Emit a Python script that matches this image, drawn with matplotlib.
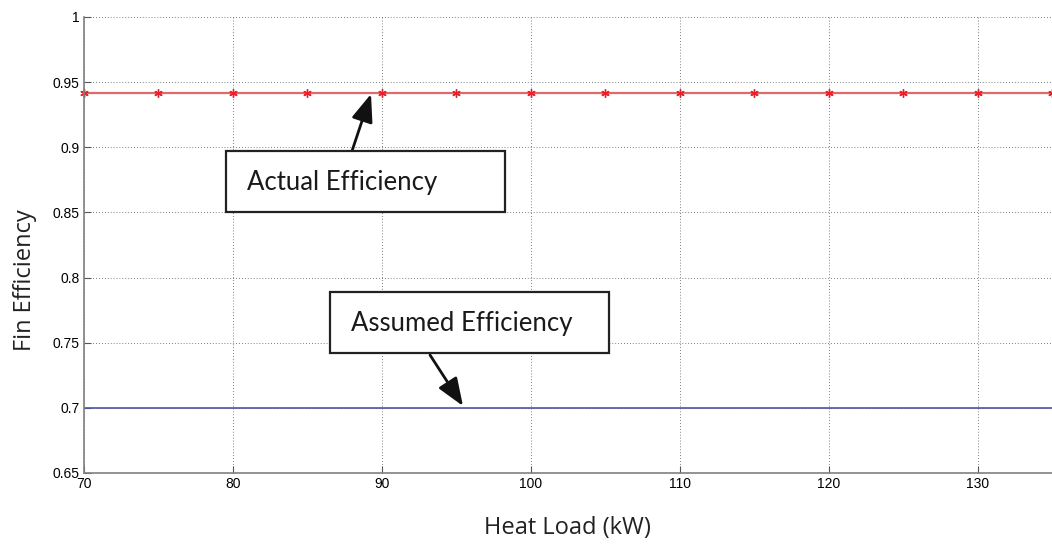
import numpy as np
import matplotlib.pyplot as plt
from matplotlib.patches import Rectangle

heat_load = [70, 75, 80, 85, 90, 95, 100, 105, 110, 115, 120, 125, 130, 135]
actual_eff = [0.9416] * len(heat_load)
assumed_eff = [0.70] * len(heat_load)

xticks = [70, 80, 90, 100, 110, 120, 130]
yticks = [0.65, 0.7, 0.75, 0.8, 0.85, 0.9, 0.95, 1.0]
yticklabels = ["0.65", "0.7", "0.75", "0.8", "0.85", "0.9", "0.95", "1"]

W, H = 1052, 546
fig = plt.figure(figsize=(W / 100, H / 100), dpi=100)
ax = fig.add_axes([84 / W, 1 - 473 / H, 1 - 84 / W, (473 - 17) / H])

ax.plot(heat_load, assumed_eff, color="#4a55a8", lw=1.2)
# asterisk markers: 6-point star with zero-width arms
ax.plot(heat_load, actual_eff, color="#e06a6a", lw=1.6, marker=(6, 2, 0),
        ms=6, mew=1.0, mec="#e8202a", mfc="#e8202a", clip_on=False)

ax.set_xlim(70, 135)
ax.set_ylim(0.65, 1.0)
ax.set_xticks(xticks)
ax.set_yticks(yticks)
ax.set_yticklabels(yticklabels)
ax.tick_params(direction="in", length=5, color="#555555", labelsize=10,
               pad=3)
for lab in ax.get_xticklabels() + ax.get_yticklabels():
    lab.set_family("Liberation Sans")
ax.grid(True, ls=(0, (1, 2.5)), color="#555555", lw=0.6)
for s in ["top", "right"]:
    ax.spines[s].set_visible(False)
for s in ["left", "bottom"]:
    ax.spines[s].set_color("#808080")
    ax.spines[s].set_linewidth(1.2)

fig.text(25 / W, 1 - 280 / H, "Fin Efficiency", rotation=90, ha="center",
         va="center", fontsize=17, family="Open Sans", color="#222222")
fig.text(567 / W, 1 - 528 / H, "Heat Load (kW)", ha="center", va="center",
         fontsize=17, family="Open Sans", color="#222222")


def callout(x0, y0, x1, y1, label, tail, tip):
    # box in pixel coordinates, y measured from the top
    fig.patches.append(Rectangle((x0 / W, 1 - y1 / H), (x1 - x0) / W,
                                 (y1 - y0) / H, transform=fig.transFigure,
                                 fc="white", ec="#222222", lw=1.6, zorder=5))
    fig.text((x0 + 21) / W, 1 - ((y0 + y1) / 2 + 1) / H, label, ha="left",
             va="center", fontsize=18.5, family="Lato", color="#1a1a1a",
             zorder=6)
    ax.annotate("", xy=(tip[0], H - tip[1]), xytext=(tail[0], H - tail[1]),
                xycoords="figure pixels", textcoords="figure pixels",
                arrowprops=dict(arrowstyle="-|>,head_length=0.85,head_width=0.33",
                                lw=2.0, color="#111111", shrinkA=0,
                                shrinkB=0, mutation_scale=20))


callout(226, 151, 505, 212, "Actual Efficiency", (352, 151), (371, 94))
callout(330, 292, 609, 353, "Assumed Efficiency", (430, 355), (463, 406))

fig.savefig("out.png", dpi=100)
